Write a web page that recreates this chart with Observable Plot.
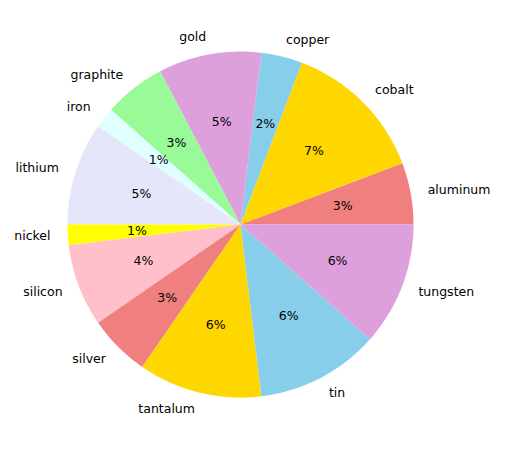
<!DOCTYPE html>
<html><head>
<script src="https://cdn.jsdelivr.net/npm/d3@7"></script>
<script src="https://cdn.jsdelivr.net/npm/@observablehq/plot@0.6"></script>
<style>body{margin:0;background:#fff}</style>
</head><body><div id="c"></div>
<script>
const labels = ["aluminum","cobalt","copper","gold","graphite","iron","lithium","nickel","silicon","silver","tantalum","tin","tungsten"];
const values = [3,7,2,5,3,1,5,1,4,3,6,6,6];
const colors = ["lightcoral","gold","skyblue","plum","palegreen","lightcyan","lavender","yellow","pink","lightcoral","gold","skyblue","plum"];

const total = d3.sum(values);
const poly = [], lab = [], pct = [];
let start = 0;
labels.forEach((name, i) => {
  const a0 = start, a1 = start + values[i] / total * 2 * Math.PI;
  start = a1;
  poly.push({name, x: 0, y: 0, i});
  const n = 60;
  for (let k = 0; k <= n; k++) {
    const a = a0 + (a1 - a0) * k / n;
    poly.push({name, x: Math.cos(a), y: Math.sin(a), i});
  }
  poly.push({name, x: 0, y: 0, i});
  const m = (a0 + a1) / 2;
  lab.push({name, x: 1.1 * Math.cos(m), y: 1.1 * Math.sin(m), anchor: Math.cos(m) >= 0 ? "start" : "end"});
  pct.push({t: values[i] + "%", x: 0.6 * Math.cos(m), y: 0.6 * Math.sin(m)});
});

const chart = Plot.plot({
  width: 505, height: 449, margin: 0,
  x: {domain: [-240/173, 265/173], axis: null},
  y: {domain: [-225/173, 224/173], axis: null},
  color: {domain: labels, range: colors},
  style: {fontFamily: "DejaVu Sans", fontSize: "12.5px"},
  marks: [
    Plot.line(poly, {x: "x", y: "y", z: "name", fill: (d) => colors[d.i], stroke: null, curve: "linear"}),
    Plot.text(lab.filter(d => d.anchor === "start"), {x: "x", y: "y", text: "name", textAnchor: "start", fill: "black"}),
    Plot.text(lab.filter(d => d.anchor === "end"), {x: "x", y: "y", text: "name", textAnchor: "end", fill: "black"}),
    Plot.text(pct, {x: "x", y: "y", text: "t", fill: "black"})
  ]
});
document.getElementById("c").appendChild(chart);
</script></body></html>
